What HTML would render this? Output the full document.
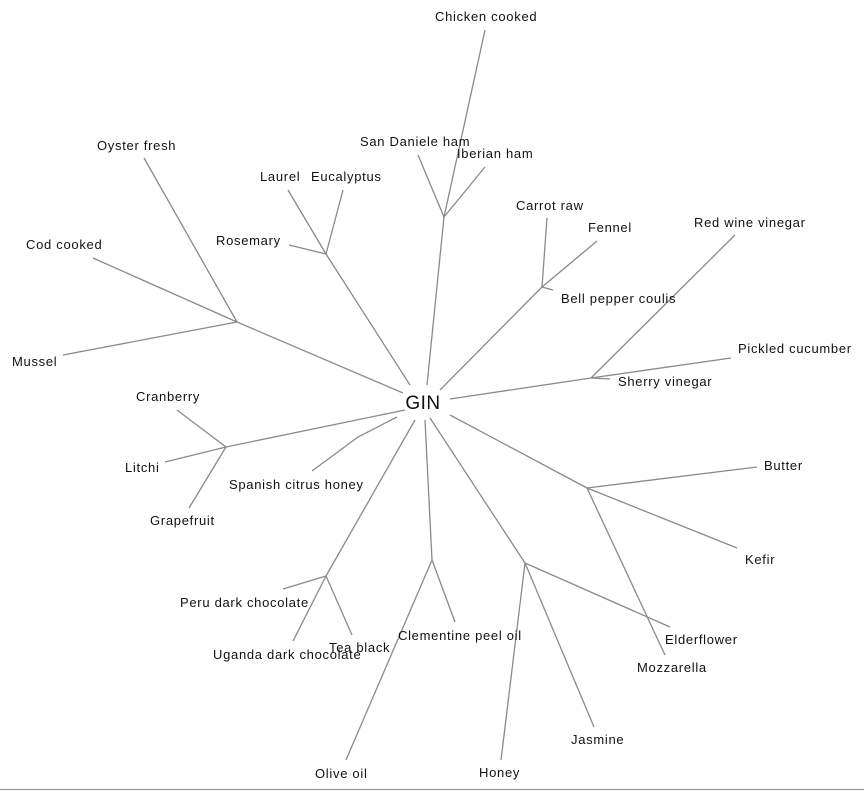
<!DOCTYPE html>
<html><head><meta charset="utf-8"><style>
html,body{margin:0;padding:0;background:#fff;}
svg{display:block}
text{font-family:"Liberation Sans",sans-serif;font-size:13px;fill:#111;letter-spacing:0.7px}
line,polyline{stroke:#8a8a8a;stroke-width:1.3;fill:none}
</style></head><body>
<svg width="864" height="791" viewBox="0 0 864 791">
<line x1="427" y1="385" x2="444" y2="217"/>
<line x1="444" y1="217" x2="485" y2="30"/>
<line x1="444" y1="217" x2="418" y2="155"/>
<line x1="444" y1="217" x2="485" y2="167"/>
<line x1="410" y1="385" x2="326" y2="254"/>
<line x1="326" y1="254" x2="288" y2="190"/>
<line x1="326" y1="254" x2="343" y2="190"/>
<line x1="326" y1="254" x2="289" y2="245"/>
<line x1="403" y1="393" x2="237" y2="322"/>
<line x1="237" y1="322" x2="144" y2="158"/>
<line x1="237" y1="322" x2="93" y2="258"/>
<line x1="237" y1="322" x2="63" y2="355"/>
<line x1="440" y1="390" x2="542" y2="287"/>
<line x1="542" y1="287" x2="547" y2="218"/>
<line x1="542" y1="287" x2="597" y2="241"/>
<line x1="542" y1="287" x2="553" y2="290"/>
<line x1="450" y1="399" x2="591" y2="378"/>
<line x1="591" y1="378" x2="735" y2="235"/>
<line x1="591" y1="378" x2="731" y2="358"/>
<line x1="591" y1="378" x2="610" y2="379"/>
<line x1="405" y1="410" x2="226" y2="447"/>
<line x1="226" y1="447" x2="177" y2="410"/>
<line x1="226" y1="447" x2="165" y2="462"/>
<line x1="226" y1="447" x2="189" y2="508"/>
<polyline points="397,417 358,437 312,471"/>
<line x1="415" y1="420" x2="326" y2="576"/>
<line x1="326" y1="576" x2="283" y2="589"/>
<line x1="326" y1="576" x2="293" y2="641"/>
<line x1="326" y1="576" x2="352" y2="635"/>
<line x1="425" y1="420" x2="432" y2="560"/>
<line x1="432" y1="560" x2="346" y2="760"/>
<line x1="432" y1="560" x2="455" y2="622"/>
<line x1="430" y1="418" x2="525" y2="563"/>
<line x1="525" y1="563" x2="501" y2="760"/>
<line x1="525" y1="563" x2="594" y2="727"/>
<line x1="525" y1="563" x2="670" y2="627"/>
<line x1="450" y1="415" x2="587" y2="488"/>
<line x1="587" y1="488" x2="757" y2="467"/>
<line x1="587" y1="488" x2="737" y2="548"/>
<line x1="587" y1="488" x2="665" y2="655"/>
<line x1="0" y1="789.5" x2="864" y2="789.5" style="stroke:#999"/>

<text x="423" y="409" text-anchor="middle" style="font-size:19px;letter-spacing:0.5px">GIN</text>
<text x="435" y="21">Chicken cooked</text>
<text x="360" y="146">San Daniele ham</text>
<text x="457" y="158">Iberian ham</text>
<text x="260" y="181">Laurel</text>
<text x="311" y="181">Eucalyptus</text>
<text x="216" y="245">Rosemary</text>
<text x="97" y="150">Oyster fresh</text>
<text x="26" y="249">Cod cooked</text>
<text x="12" y="366">Mussel</text>
<text x="516" y="210">Carrot raw</text>
<text x="588" y="232">Fennel</text>
<text x="561" y="303">Bell pepper coulis</text>
<text x="694" y="227">Red wine vinegar</text>
<text x="738" y="353">Pickled cucumber</text>
<text x="618" y="386">Sherry vinegar</text>
<text x="136" y="401">Cranberry</text>
<text x="125" y="472">Litchi</text>
<text x="150" y="525">Grapefruit</text>
<text x="229" y="489">Spanish citrus honey</text>
<text x="180" y="607">Peru dark chocolate</text>
<text x="213" y="659">Uganda dark chocolate</text>
<text x="329" y="652">Tea black</text>
<text x="398" y="640">Clementine peel oil</text>
<text x="315" y="778">Olive oil</text>
<text x="479" y="777">Honey</text>
<text x="571" y="744">Jasmine</text>
<text x="665" y="644">Elderflower</text>
<text x="637" y="672">Mozzarella</text>
<text x="764" y="470">Butter</text>
<text x="745" y="564">Kefir</text>
</svg>
</body></html>
